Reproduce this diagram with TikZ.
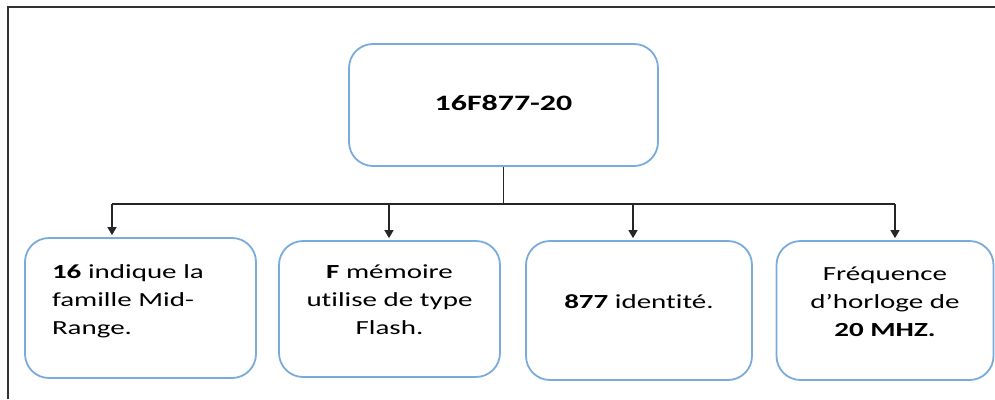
\documentclass[tikz,border=0pt]{standalone}
\usepackage{fontspec}
\setmainfont{Carlito}[FakeStretch=1.45, Ligatures=NoCommon]
\usetikzlibrary{arrows.meta}
\definecolor{myboxcolor}{HTML}{7AABDD}
\definecolor{myframecolor}{HTML}{333333}
\tikzset{
  roundbox/.style={draw=myboxcolor, line width=1.8pt, rounded corners=24pt, rectangle, fill=white, font=\fontsize{20pt}{28pt}\selectfont},
  infobox/.style={roundbox, text depth=18pt},
  linkline/.style={draw=black!85, line width=1.4pt},
  downarrow/.style={linkline, -{Triangle[width=9pt,length=8pt]}, shorten >=2pt},
}

\begin{document}
\begin{tikzpicture}[x=1pt,y=-1pt]%
\useasboundingbox (0,0) rectangle (995,399);%
\draw[myframecolor, line width=2.6pt] (8,399) -- (8,7) -- (995,7);%
\node[roundbox, minimum width=309pt, minimum height=122pt] (chip) at (503.5,105) {\fontsize{22pt}{28pt}\selectfont\raisebox{4pt}{\textbf{16F877-20}}};%
\node[roundbox, text depth=73pt, minimum width=231pt, minimum height=140pt, text width=177pt, inner xsep=0pt, align=left] (famille) at (140.5,308) {\textbf{16} indique la\\famille Mid-\\Range.};%
\node[infobox, minimum width=221pt, minimum height=136pt, align=center] (memoire) at (389.5,309) {\textbf{F} mémoire\\utilise de type\\Flash.};%
\node[infobox, minimum width=226pt, minimum height=139pt, align=center] (identite) at (639,310.5) {\textbf{877} identité.};%
\node[infobox, minimum width=217pt, minimum height=139pt, align=center] (horloge) at (885,310.5) {Fréquence\\d’horloge de\\\textbf{20 MHZ.}};%
\coordinate (j1) at (112,204);%
\coordinate (j2) at (389,204);%
\coordinate (j3) at (633,204);%
\coordinate (j4) at (895,204);%
\draw[linkline] (chip.south) -- (chip.south |- j1);%
\draw[linkline] (j1) -- (j4);%
\draw[downarrow] (j1) -- (j1 |- famille.north);%
\draw[downarrow] (j2) -- (j2 |- memoire.north);%
\draw[downarrow] (j3) -- (j3 |- identite.north);%
\draw[downarrow] (j4) -- (j4 |- horloge.north);%
\end{tikzpicture}
\end{document}
